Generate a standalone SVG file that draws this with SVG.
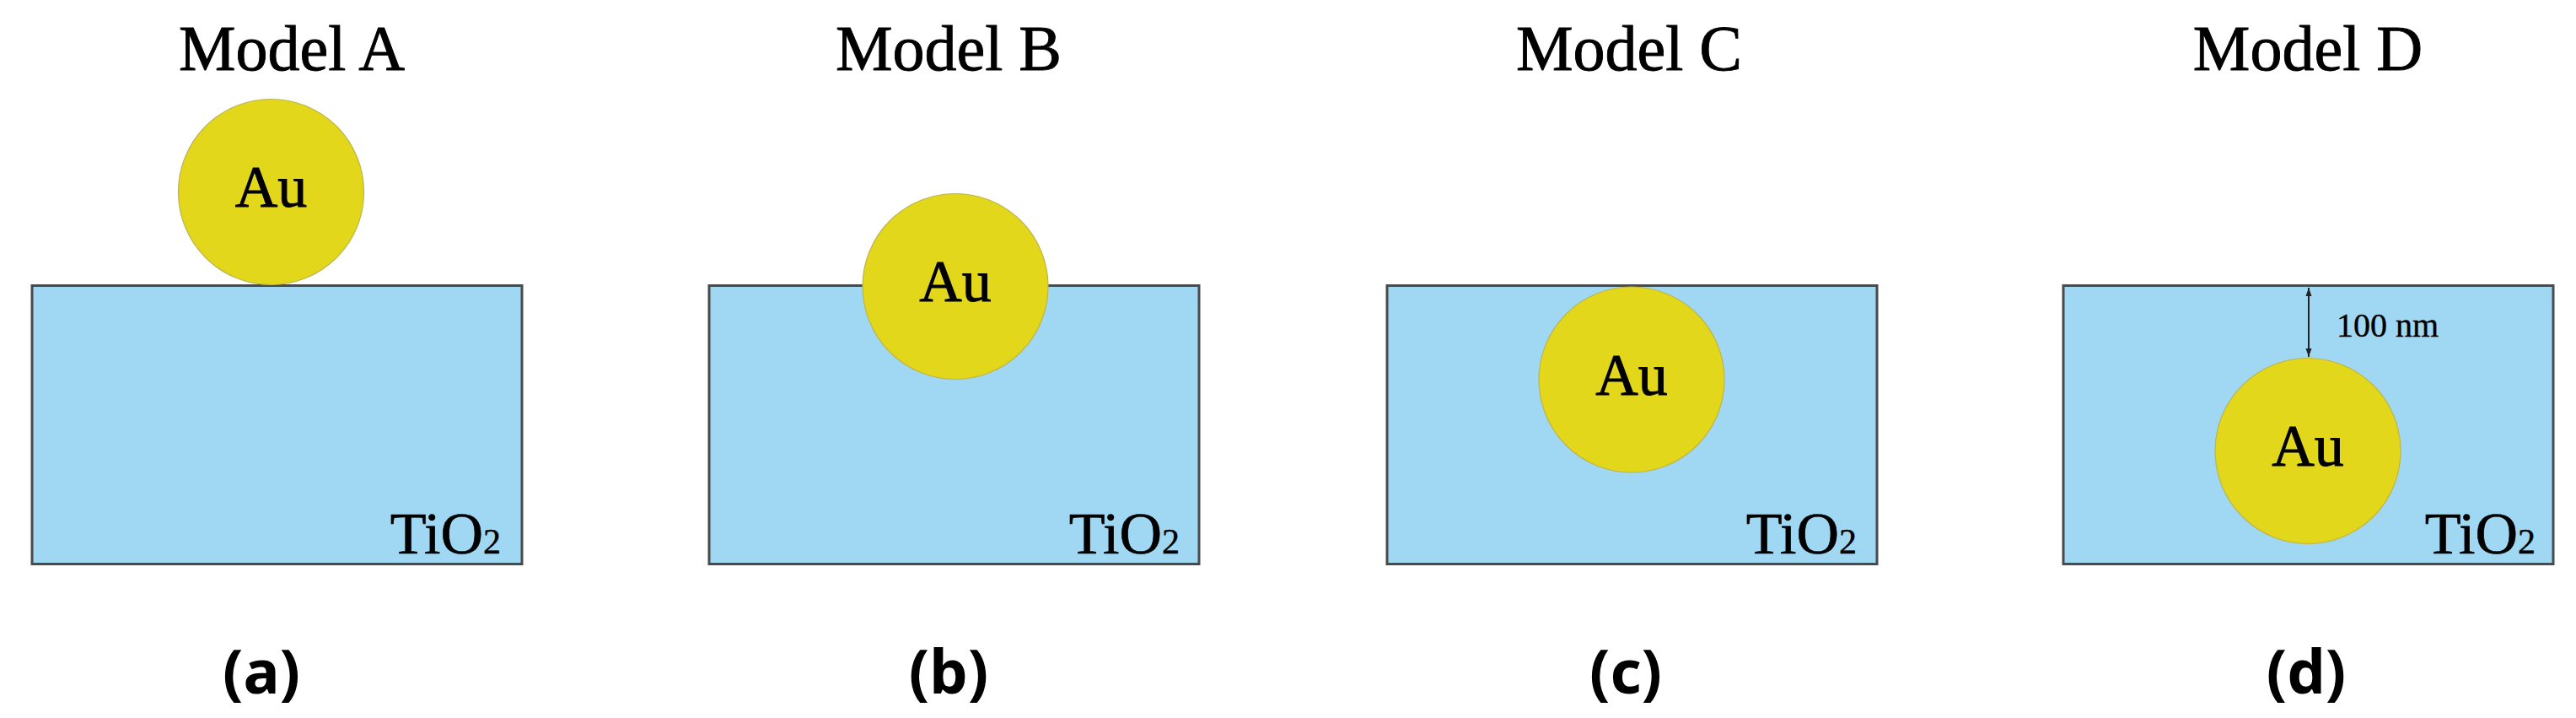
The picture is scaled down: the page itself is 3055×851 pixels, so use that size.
<svg xmlns="http://www.w3.org/2000/svg" width="3055" height="851" viewBox="0 0 3055 851">
<style>
.title{font-family:"Liberation Serif","Times New Roman",serif;font-size:76px;fill:#000;stroke:#000;stroke-width:0.9;text-anchor:middle}
.au{font-family:"Liberation Serif","Times New Roman",serif;font-size:70px;fill:#000;stroke:#000;stroke-width:0.9;text-anchor:middle}
.tio{font-family:"Liberation Serif","Times New Roman",serif;font-size:70px;fill:#000;stroke:#000;stroke-width:0.7;text-anchor:end}
.sub{font-size:42px;stroke-width:0.4}
.lab{font-family:"Noto Sans","Open Sans",sans-serif;font-weight:bold;font-size:72px;fill:#000;text-anchor:middle}
.nm{font-family:"Liberation Serif","Times New Roman",serif;font-size:40px;fill:#000;stroke:#000;stroke-width:0.4}
.slab{fill:#a0d8f3;stroke:#4a4a4a;stroke-width:3}
.np{fill:#e2d71b;stroke:#bdb54a;stroke-width:1.2}
</style>
<defs>
<marker id="ah" viewBox="0 0 10 10" refX="10" refY="5" markerWidth="10" markerHeight="10" markerUnits="userSpaceOnUse" orient="auto-start-reverse">
<path d="M0,1.5 L10,5 L0,8.5 Z" fill="#222"/>
</marker>
</defs>
<g id="panel-a">
<text class="title" x="346" y="83">Model A</text>
<rect class="slab" x="38" y="338.5" width="581" height="330"/>
<circle class="np" cx="321.5" cy="227.5" r="110"/>
<text class="au" x="321.5" y="245">Au</text>
<text class="tio" x="594" y="656">TiO<tspan class="sub">2</tspan></text>
<text class="lab" x="310" y="822">(a)</text>
</g>
<g id="panel-b">
<text class="title" x="1125" y="83">Model B</text>
<rect class="slab" x="841" y="338.5" width="581" height="330"/>
<circle class="np" cx="1133" cy="339.5" r="110"/>
<text class="au" x="1133" y="357">Au</text>
<text class="tio" x="1399" y="656">TiO<tspan class="sub">2</tspan></text>
<text class="lab" x="1125" y="822">(b)</text>
</g>
<g id="panel-c">
<text class="title" x="1932" y="83">Model C</text>
<rect class="slab" x="1645" y="338.5" width="581" height="330"/>
<circle class="np" cx="1935" cy="450" r="110"/>
<text class="au" x="1935" y="467.5">Au</text>
<text class="tio" x="2202" y="656">TiO<tspan class="sub">2</tspan></text>
<text class="lab" x="1928" y="822">(c)</text>
</g>
<g id="panel-d">
<text class="title" x="2737" y="83">Model D</text>
<rect class="slab" x="2447" y="338.5" width="581" height="330"/>
<circle class="np" cx="2737" cy="534.5" r="110"/>
<text class="au" x="2737" y="552">Au</text>
<text class="tio" x="3007" y="656">TiO<tspan class="sub">2</tspan></text>
<text class="nm" x="2771" y="399">100 nm</text>
<text class="lab" x="2735" y="822">(d)</text>
</g>
<g id="connectors">
<line x1="2738" y1="341" x2="2738" y2="423" stroke="#222" stroke-width="2" marker-start="url(#ah)" marker-end="url(#ah)"/>
</g>
</svg>
